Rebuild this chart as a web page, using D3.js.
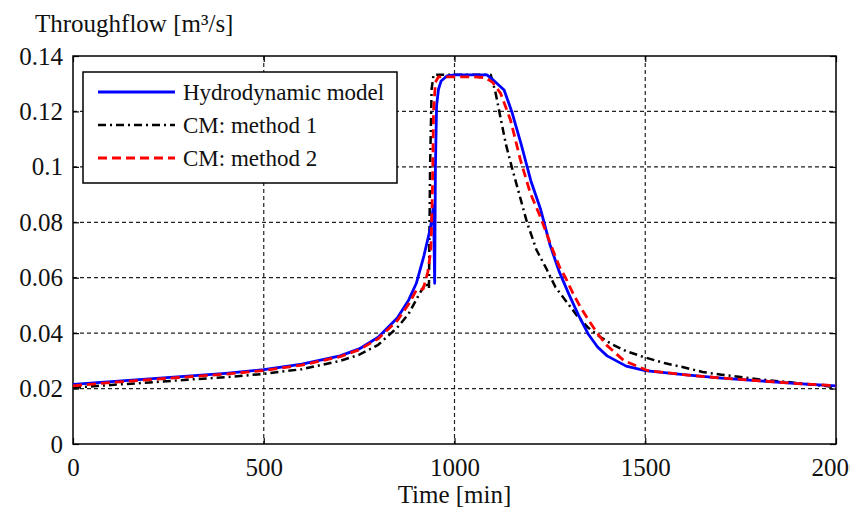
<!DOCTYPE html>
<html>
<head>
<meta charset="utf-8">
<script src="https://cdn.jsdelivr.net/npm/d3@7"></script>
<style>
  html, body { margin: 0; padding: 0; background: #fff; }
  svg { display: block; }
</style>
</head>
<body>
<div id="chart"></div>
<script>
// Hydrodynamic model (blue, solid)
const hydroTime = [0, 100, 200, 300, 400, 500, 600, 700, 750, 800, 850, 880, 900, 920, 937, 945, 948, 950, 953, 958, 965, 980, 1000, 1050, 1085, 1100, 1130, 1150, 1175, 1200, 1225, 1250, 1275, 1300, 1325, 1350, 1375, 1400, 1450, 1500, 1600, 1700, 1800, 1900, 2000];
const hydroFlow = [0.0215, 0.0225, 0.0235, 0.0245, 0.0255, 0.0268, 0.0288, 0.0318, 0.0343, 0.0385, 0.0455, 0.0520, 0.0580, 0.0680, 0.0780, 0.0860, 0.0580, 0.1000, 0.1220, 0.1280, 0.1310, 0.1328, 0.1332, 0.1332, 0.1332, 0.1315, 0.1277, 0.1200, 0.1080, 0.0950, 0.0850, 0.0720, 0.0620, 0.0540, 0.0465, 0.0398, 0.0350, 0.0318, 0.0281, 0.0265, 0.0250, 0.0238, 0.0228, 0.0218, 0.0210];

// Conceptual model, method 1 (black, dash-dot)
const cm1Time = [0, 100, 200, 300, 400, 500, 600, 700, 750, 800, 850, 880, 908, 925, 933, 936, 940, 945, 1000, 1050, 1095, 1108, 1121, 1135, 1150, 1170, 1190, 1215, 1240, 1265, 1290, 1320, 1350, 1380, 1410, 1450, 1500, 1550, 1600, 1650, 1700, 1800, 1900, 2000];
const cm1Flow = [0.0203, 0.0213, 0.0222, 0.0232, 0.0241, 0.0253, 0.0270, 0.0300, 0.0322, 0.0358, 0.0420, 0.0470, 0.0542, 0.0580, 0.0560, 0.1000, 0.1280, 0.1332, 0.1332, 0.1332, 0.1332, 0.1265, 0.1175, 0.1080, 0.1000, 0.0900, 0.0800, 0.0700, 0.0635, 0.0565, 0.0520, 0.0465, 0.0420, 0.0388, 0.0362, 0.0335, 0.0312, 0.0292, 0.0277, 0.0260, 0.0250, 0.0233, 0.0220, 0.0205];

// Conceptual model, method 2 (red, dashed)
const cm2Time = [0, 100, 200, 300, 400, 500, 600, 700, 750, 800, 850, 880, 900, 918, 930, 938, 942, 945, 950, 958, 1000, 1050, 1080, 1100, 1121, 1147, 1173, 1199, 1225, 1252, 1275, 1291, 1310, 1330, 1350, 1375, 1400, 1444, 1506, 1600, 1700, 1800, 1900, 2000];
const cm2Flow = [0.0210, 0.0222, 0.0232, 0.0242, 0.0252, 0.0265, 0.0285, 0.0315, 0.0340, 0.0380, 0.0445, 0.0505, 0.0555, 0.0560, 0.0620, 0.0700, 0.0900, 0.1200, 0.1305, 0.1325, 0.1325, 0.1325, 0.1322, 0.1305, 0.1265, 0.1168, 0.1024, 0.0904, 0.0820, 0.0720, 0.0640, 0.0600, 0.0545, 0.0494, 0.0450, 0.0398, 0.0355, 0.0301, 0.0265, 0.0250, 0.0238, 0.0228, 0.0218, 0.0210];

const xTicks = [0, 500, 1000, 1500, 2000];
const yTicks = [0, 0.02, 0.04, 0.06, 0.08, 0.1, 0.12, 0.14];
const legendLabels = ["Hydrodynamic model", "CM: method 1", "CM: method 2"];

const serif = "'Liberation Serif', 'Times New Roman', Times, 'DejaVu Serif', serif";

const W = 850, H = 514;
const margin = { top: 56, right: 14, bottom: 70, left: 73 };
const width = W - margin.left - margin.right;
const height = H - margin.top - margin.bottom;

const svg = d3.select("#chart").append("svg")
    .attr("width", W)
    .attr("height", H)
    .attr("font-family", serif);

const g = svg.append("g")
    .attr("transform", `translate(${margin.left},${margin.top})`);

const x = d3.scaleLinear().domain([0, 2000]).range([0, width]);
const y = d3.scaleLinear().domain([0, 0.14]).range([height, 0]);

// grille pointillée
g.append("g").selectAll("line")
    .data(xTicks.slice(1, -1))
    .join("line")
    .attr("x1", d => x(d)).attr("x2", d => x(d))
    .attr("y1", 0).attr("y2", height)
    .attr("stroke", "#222").attr("stroke-width", 1.2)
    .attr("stroke-dasharray", "4,3");

g.append("g").selectAll("line")
    .data(yTicks.slice(1, -1))
    .join("line")
    .attr("x1", 0).attr("x2", width)
    .attr("y1", d => y(d)).attr("y2", d => y(d))
    .attr("stroke", "#222").attr("stroke-width", 1.2)
    .attr("stroke-dasharray", "4,3");

// axes (ticks vers l'intérieur, style matlab)
const tickLen = 6;
g.append("g")
    .attr("transform", `translate(0,${height})`)
    .call(d3.axisBottom(x).tickValues(xTicks).tickSize(-tickLen).tickPadding(14).tickFormat(d3.format("d")))
    .call(a => a.select(".domain").remove());
g.append("g")
    .call(d3.axisTop(x).tickValues(xTicks).tickSize(-tickLen).tickFormat(""))
    .call(a => a.select(".domain").remove());
g.append("g")
    .call(d3.axisLeft(y).tickValues(yTicks).tickSize(-tickLen).tickPadding(10).tickFormat(d => String(+d.toFixed(2))))
    .call(a => a.select(".domain").remove());
g.append("g")
    .attr("transform", `translate(${width},0)`)
    .call(d3.axisRight(y).tickValues(yTicks).tickSize(-tickLen).tickFormat(""))
    .call(a => a.select(".domain").remove());

g.selectAll("g").attr("font-family", serif);
g.selectAll(".tick line").attr("stroke", "#000").attr("stroke-width", 1.2);
g.selectAll(".tick text")
    .attr("fill", "#111")
    .attr("font-family", serif)
    .attr("font-size", 25);

g.append("rect")
    .attr("width", width).attr("height", height)
    .attr("fill", "none").attr("stroke", "#000").attr("stroke-width", 1.5);

// courbes
g.append("clipPath").attr("id", "clip")
    .append("rect").attr("width", width).attr("height", height);

const line = d3.line().x(d => x(d[0])).y(d => y(d[1]));

const series = [
    { time: cm1Time, flow: cm1Flow, color: "#000", dash: "8,4,2,4", w: 2.5 },
    { time: hydroTime, flow: hydroFlow, color: "#0000ff", dash: null, w: 2.8 },
    { time: cm2Time, flow: cm2Flow, color: "#ff0000", dash: "9,5", w: 2.8 }
];

g.append("g").attr("clip-path", "url(#clip)")
    .selectAll("path")
    .data(series)
    .join("path")
    .attr("d", s => line(d3.zip(s.time, s.flow)))
    .attr("fill", "none")
    .attr("stroke", s => s.color)
    .attr("stroke-width", s => s.w)
    .attr("stroke-dasharray", s => s.dash)
    .attr("stroke-linejoin", "round");

// légende
const legend = svg.append("g").attr("transform", "translate(83,72)");
legend.append("rect")
    .attr("width", 314).attr("height", 111)
    .attr("fill", "#fff").attr("stroke", "#000").attr("stroke-width", 1.5);

const legendStyle = [
    { color: "#0000ff", dash: null, w: 2.8 },
    { color: "#000", dash: "8,4,2,4", w: 2.5 },
    { color: "#ff0000", dash: "9,5", w: 2.8 }
];

legendLabels.forEach((label, i) => {
    const ly = 20 + i * 33;
    legend.append("line")
        .attr("x1", 15).attr("x2", 92)
        .attr("y1", ly).attr("y2", ly)
        .attr("stroke", legendStyle[i].color)
        .attr("stroke-width", legendStyle[i].w)
        .attr("stroke-dasharray", legendStyle[i].dash);
    legend.append("text")
        .attr("x", 100).attr("y", ly + 8)
        .attr("fill", "#111")
        .attr("font-size", 23)
        .text(label);
});

// titres
svg.append("text")
    .attr("x", 35).attr("y", 32)
    .attr("fill", "#111")
    .attr("font-size", 25)
    .text("Throughflow [m³/s]");

svg.append("text")
    .attr("x", margin.left + width / 2).attr("y", 503)
    .attr("text-anchor", "middle")
    .attr("fill", "#111")
    .attr("font-size", 25)
    .text("Time [min]");
</script>
</body>
</html>
